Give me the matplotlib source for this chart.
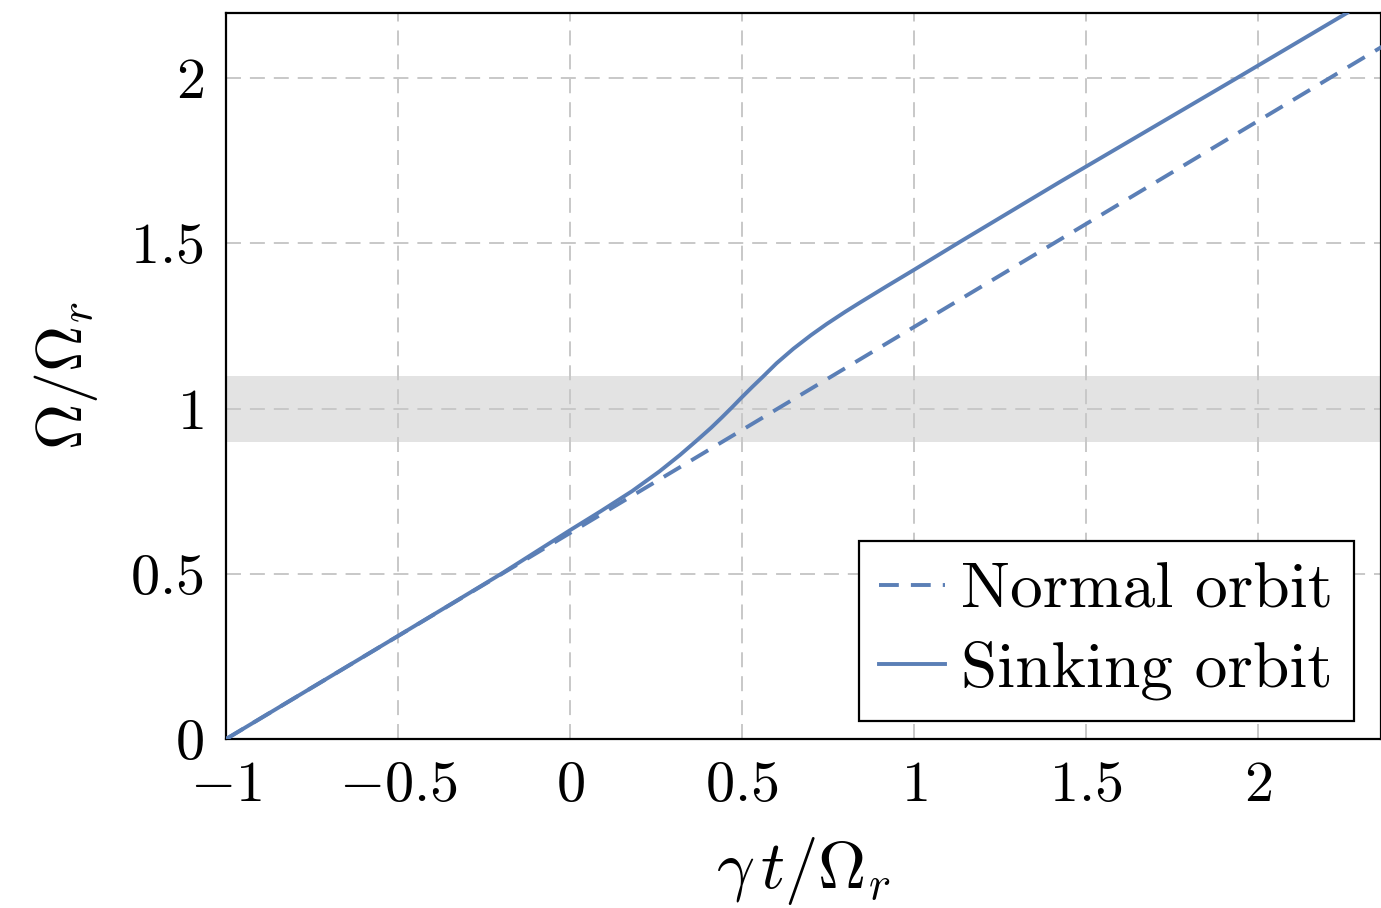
import matplotlib
matplotlib.use('Agg')
import matplotlib.pyplot as plt

plt.rcParams['font.family'] = 'serif'
plt.rcParams['font.serif'] = ['cmr10', 'DejaVu Serif']
plt.rcParams['mathtext.fontset'] = 'cm'
plt.rcParams['axes.unicode_minus'] = False

# normal orbit: straight line through the resonance
normal_x = [-1.0, 2.36]
normal_y = [0.0, 2.095]

# sinking orbit: gets pushed up while crossing the resonance band
sink_x = [-1.0, -0.5, -0.2, 0.0, 0.09, 0.18, 0.26, 0.32, 0.37, 0.41, 0.44, 0.47, 0.50,
          0.53, 0.56, 0.60, 0.649, 0.70, 0.746, 0.80, 0.843, 0.92, 1.0, 1.134, 1.424,
          1.938, 2.258]
sink_y = [0.0, 0.312, 0.50, 0.632, 0.69, 0.75, 0.81, 0.86, 0.905, 0.942, 0.972, 1.003, 1.035,
          1.066, 1.096, 1.137, 1.181, 1.222, 1.256, 1.293, 1.321, 1.370, 1.420, 1.505, 1.686,
          2.0, 2.197]

band = (0.9, 1.1)

xticks = [-1, -0.5, 0, 0.5, 1, 1.5, 2]
xticklabels = ['$-1$', '$-0.5$', '$0$', '$0.5$', '$1$', '$1.5$', '$2$']
yticks = [0, 0.5, 1, 1.5, 2]
yticklabels = ['$0$', '$0.5$', '$1$', '$1.5$', '$2$']

col = '#5b7fb6'

fig = plt.figure(figsize=(13.81, 9.08), dpi=100)
ax = fig.add_axes([0.1637, 0.1861, 1.0 - 0.1637, 0.9857 - 0.1861])

ax.axhspan(band[0], band[1], color='#e3e3e3', lw=0, zorder=0)
ax.plot(normal_x, normal_y, color=col, lw=2.8, dashes=(5.1, 3.1), label='Normal orbit', zorder=3)
ax.plot(sink_x, sink_y, color=col, lw=2.8, label='Sinking orbit', zorder=3)

ax.set_xlim(-1, 2.357)
ax.set_ylim(0, 2.197)
ax.set_xticks(xticks)
ax.set_xticklabels(xticklabels)
ax.set_yticks(yticks)
ax.set_yticklabels(yticklabels)
ax.tick_params(length=0, labelsize=42)
ax.tick_params(axis='x', pad=16)
ax.tick_params(axis='y', pad=16)
ax.grid(True, color='#c8c8c8', lw=1.4, dashes=(7.7, 4.6), zorder=1)
ax.set_axisbelow(True)
for s in ax.spines.values():
    s.set_linewidth(1.6)

ax.set_xlabel(r'$\gamma\, t/\Omega_r$', fontsize=48, labelpad=16)
ax.set_ylabel(r'$\Omega/\Omega_r$', fontsize=46, labelpad=22)

leg = ax.legend(loc='lower right', bbox_to_anchor=(0.9766, 0.0248), fontsize=47,
                frameon=True, fancybox=False, edgecolor='black', framealpha=1,
                borderpad=0.32, handlelength=1.0, handletextpad=0.25,
                labelspacing=0.31, borderaxespad=0.0)
leg.get_frame().set_linewidth(1.6)

fig.savefig('out.png', dpi=100)
